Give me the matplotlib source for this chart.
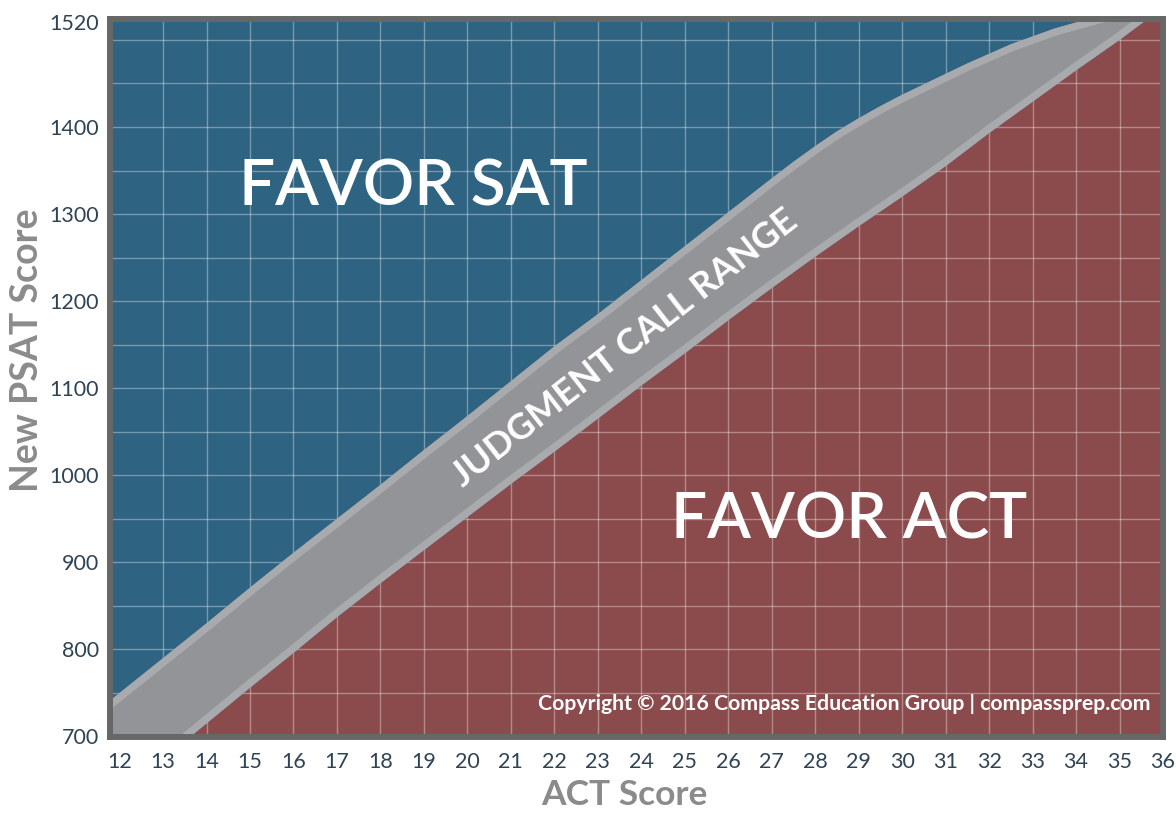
import matplotlib.pyplot as plt
from matplotlib.patches import Polygon

plt.rcParams['font.family'] = ['Lato', 'DejaVu Sans']

# upper edge of the judgment call band (above -> favor SAT)
act_upper = [11, 12, 13, 14, 15, 16, 17, 18, 19, 20, 21, 22, 23, 24, 25, 26, 27,
             27.5, 28, 28.5, 29, 29.5, 30, 30.5, 31, 31.5, 32, 32.5, 33, 33.5,
             34, 34.5, 35, 36]
psat_upper = [710, 750, 790, 830, 871, 911, 950, 989, 1029, 1068, 1108, 1148, 1185,
              1224, 1263, 1302, 1341, 1360, 1378, 1395, 1410, 1424, 1437, 1449,
              1461, 1473, 1484, 1495, 1504, 1513, 1520, 1527, 1532, 1540]
# lower edge of the band (below -> favor ACT)
act_lower = [11, 12, 13, 14, 15, 16, 17, 18, 19, 20, 21, 22, 23, 24,
             25, 26, 27, 28, 29, 30, 31, 32, 33, 34, 35, 36]
psat_lower = [592, 633, 674, 715, 756, 796, 837, 876, 914, 952, 990, 1027, 1065,
              1103, 1140, 1178, 1215, 1251, 1286, 1320, 1355, 1393, 1429, 1465, 1500, 1537]

x_ticks = list(range(12, 37))
y_ticks = [700, 800, 900, 1000, 1100, 1200, 1300, 1400, 1520]

blue = '#2e6382'
red = '#8b4b4c'
band_gray = '#939498'
band_light = '#a8aaad'
frame = '#676767'
tick_col = '#2f4356'
label_col = '#8c8b8b'

fig = plt.figure(figsize=(11.76, 8.14), dpi=100)
ax = fig.add_axes([110 / 1176, 1 - 736.5 / 814, 1053 / 1176, 717.5 / 814])
ax.set_facecolor(blue)

ax.fill_between(act_lower, 500, psat_lower, color=red, lw=0, zorder=1)

# band with lighter edges
verts = list(zip(act_upper, psat_upper)) + list(zip(act_lower[::-1], psat_lower[::-1]))
band = Polygon(verts, closed=True, facecolor=band_gray, edgecolor='none', zorder=3)
ax.add_patch(band)
for xs, ys in ((act_upper, psat_upper), (act_lower, psat_lower)):
    ln, = ax.plot(xs, ys, color=band_light, lw=10.5, zorder=3.1, solid_joinstyle='round')
    ln.set_clip_path(band)

ax.set_xlim(11.78, 36)
ax.set_ylim(700, 1524)

# grid
for v in range(13, 36):
    ax.axvline(v, color='white', alpha=0.35, lw=1, zorder=2.5)
for h in range(750, 1520, 50):
    ax.axhline(h, color='white', alpha=0.35, lw=1, zorder=2.5)

ax.set_xticks(x_ticks)
ax.set_xticklabels([str(v) for v in x_ticks])
ax.set_yticks(y_ticks)
ax.set_yticklabels([str(v) for v in y_ticks])
ax.tick_params(length=0, labelsize=15.5, labelcolor=tick_col)
ax.tick_params(axis='x', pad=11)
ax.tick_params(axis='y', pad=8)

for s in ax.spines.values():
    s.set_color(frame)
    s.set_linewidth(4.3)
    s.set_zorder(5)

ax.text(18.75, 1331, 'FAVOR SAT', color='white', fontsize=46, fontweight='semibold',
        ha='center', va='center', zorder=4)
ax.text(28.77, 948, 'FAVOR ACT', color='white', fontsize=46, fontweight='semibold',
        ha='center', va='center', zorder=4)
ax.text(23.62, 1146, 'JUDGMENT CALL RANGE', color='white', fontsize=26, fontweight='bold',
        ha='center', va='center', rotation=38, rotation_mode='anchor', zorder=4)
ax.text(35.71, 737, 'Copyright \u00a9 2016 Compass Education Group | compassprep.com',
        color='white', fontsize=15.3, fontweight='bold', ha='right', va='center', zorder=2)

fig.text(624 / 1176, 1 - 805 / 814, 'ACT Score', color=label_col, fontsize=25.5,
         fontweight='bold', ha='center', va='baseline')
fig.text(27 / 1176, 1 - 350 / 814, 'New PSAT Score', color=label_col, fontsize=27,
         fontweight='bold', ha='center', va='center', rotation=90)

fig.savefig('out.png', dpi=100)
